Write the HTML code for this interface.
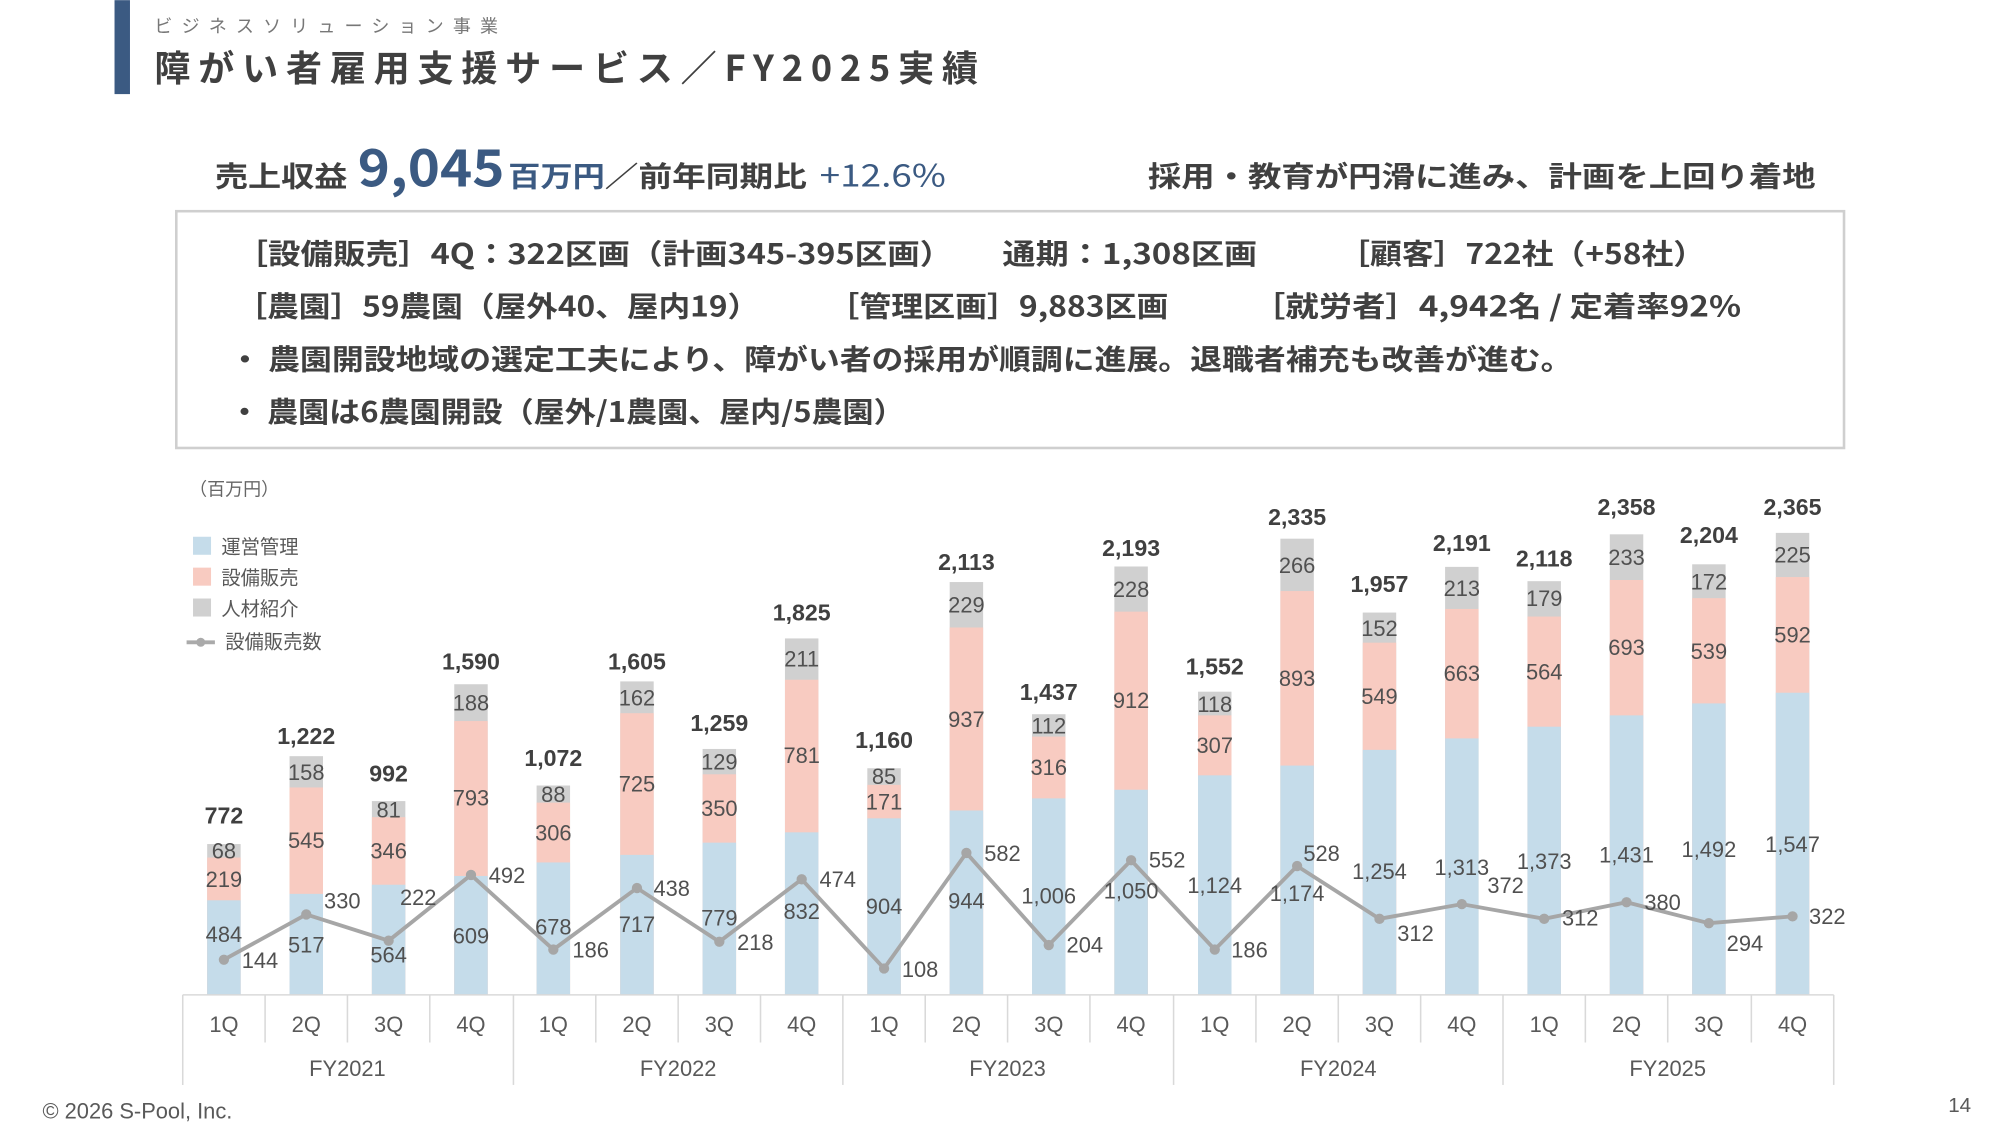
<!DOCTYPE html>
<html><head><meta charset="utf-8"><style>
html,body{margin:0;padding:0;background:#fff;}
svg{display:block;font-family:"Liberation Sans","Noto Sans CJK JP",sans-serif;}
.t{font-weight:bold;fill:#404040;}
.j{font-family:"Noto Sans CJK JP",sans-serif;}
.s{font-size:17px;fill:#505050;text-anchor:middle;}
.tot{font-size:18px;font-weight:bold;fill:#404040;text-anchor:middle;}
.ax{font-size:17px;fill:#595959;text-anchor:middle;}
</style></head><body>
<svg width="2001" height="1125" viewBox="0 0 1555 874" xmlns="http://www.w3.org/2000/svg">
<rect x="89" y="0" width="12" height="73" fill="#3b5a82"/>
<text x="120" y="25" font-size="14" fill="#777" class="j" textLength="267" lengthAdjust="spacing">ビジネスソリューション事業</text>
<text x="120" y="63" font-size="28" class="t j" textLength="640" lengthAdjust="spacing">障がい者雇用支援サービス／FY2025実績</text>
<g class="t j" font-size="22">
<text x="167" y="145" textLength="103" lengthAdjust="spacingAndGlyphs">売上収益</text>
<text x="278" y="145" fill="#3b5a82" font-size="40" textLength="114" lengthAdjust="spacingAndGlyphs">9,045</text>
<text x="395" y="145" fill="#3b5a82" textLength="75" lengthAdjust="spacingAndGlyphs">百万円</text>
<text x="470" y="145" textLength="157" lengthAdjust="spacingAndGlyphs">／前年同期比</text>
<text x="637" y="145" fill="#3b5a82" font-weight="normal" font-size="24" textLength="98" lengthAdjust="spacingAndGlyphs">+12.6%</text>
<text x="892" y="145" textLength="519" lengthAdjust="spacingAndGlyphs">採用・教育が円滑に進み、計画を上回り着地</text>
</g>
<rect x="137" y="164" width="1296" height="184" fill="none" stroke="#cfcfcf" stroke-width="2"/>
<g class="t j" font-size="22">
<text x="183" y="205" textLength="557" lengthAdjust="spacingAndGlyphs">［設備販売］4Q：322区画（計画345-395区画）</text>
<text x="779" y="205" textLength="198" lengthAdjust="spacingAndGlyphs">通期：1,308区画</text>
<text x="1040" y="205" textLength="285" lengthAdjust="spacingAndGlyphs">［顧客］722社（+58社）</text>
<text x="183" y="246" textLength="407" lengthAdjust="spacingAndGlyphs">［農園］59農園（屋外40、屋内19）</text>
<text x="643" y="246" textLength="265" lengthAdjust="spacingAndGlyphs">［管理区画］9,883区画</text>
<text x="973" y="246" textLength="380" lengthAdjust="spacingAndGlyphs">［就労者］4,942名 / 定着率92%</text>
<text x="178" y="287" textLength="1044" lengthAdjust="spacingAndGlyphs">・ 農園開設地域の選定工夫により、障がい者の採用が順調に進展。退職者補充も改善が進む。</text>
<text x="178" y="328" textLength="525" lengthAdjust="spacingAndGlyphs">・ 農園は6農園開設（屋外/1農園、屋内/5農園）</text>
</g>
<text x="147" y="385" font-size="14" fill="#666" class="j">（百万円）</text>
<g class="j" font-size="15" fill="#595959">
<rect x="150" y="417" width="14" height="14" fill="#c5dcea"/><text x="172" y="430">運営管理</text>
<rect x="150" y="441" width="14" height="14" fill="#f8cbc1"/><text x="172" y="454">設備販売</text>
<rect x="150" y="465" width="14" height="14" fill="#d0d0d0"/><text x="172" y="478">人材紹介</text>
<line x1="145" y1="499" x2="167" y2="499" stroke="#aaa" stroke-width="3"/><circle cx="156" cy="499" r="3.5" fill="#aaa"/><text x="175" y="504">設備販売数</text>
</g>
<g>
<g fill="#d0d0d0">
<rect x="161" y="655.8" width="26" height="117.2"/><rect x="225" y="587.5" width="26" height="185.5"/><rect x="289" y="622.4" width="26" height="150.6"/><rect x="353" y="531.6" width="26" height="241.4"/><rect x="417" y="610.3" width="26" height="162.7"/><rect x="482" y="529.4" width="26" height="243.6"/><rect x="546" y="581.9" width="26" height="191.1"/><rect x="610" y="496" width="26" height="277"/><rect x="674" y="596.9" width="26" height="176.1"/><rect x="738" y="452.2" width="26" height="320.8"/><rect x="802" y="554.9" width="26" height="218.1"/><rect x="866" y="440.1" width="26" height="332.9"/><rect x="931" y="537.4" width="26" height="235.6"/><rect x="995" y="418.5" width="26" height="354.5"/><rect x="1059" y="475.9" width="26" height="297.1"/><rect x="1123" y="440.4" width="26" height="332.6"/><rect x="1187" y="451.5" width="26" height="321.5"/><rect x="1251" y="415.1" width="26" height="357.9"/><rect x="1315" y="438.4" width="26" height="334.6"/><rect x="1380" y="414" width="26" height="359"/>
</g>
<g fill="#f8cbc1">
<rect x="161" y="666.3" width="26" height="106.7"/><rect x="225" y="611.8" width="26" height="161.2"/><rect x="289" y="634.9" width="26" height="138.1"/><rect x="353" y="560.2" width="26" height="212.8"/><rect x="417" y="623.6" width="26" height="149.4"/><rect x="482" y="554.1" width="26" height="218.9"/><rect x="546" y="601.6" width="26" height="171.4"/><rect x="610" y="528.1" width="26" height="244.9"/><rect x="674" y="609.8" width="26" height="163.2"/><rect x="738" y="487.5" width="26" height="285.5"/><rect x="802" y="572.3" width="26" height="200.7"/><rect x="866" y="475.2" width="26" height="297.8"/><rect x="931" y="555.8" width="26" height="217.2"/><rect x="995" y="459.2" width="26" height="313.8"/><rect x="1059" y="499.3" width="26" height="273.7"/><rect x="1123" y="473.1" width="26" height="299.9"/><rect x="1187" y="479" width="26" height="294"/><rect x="1251" y="450.6" width="26" height="322.4"/><rect x="1315" y="464.7" width="26" height="308.3"/><rect x="1380" y="448.3" width="26" height="324.7"/>
</g>
<g fill="#c5dcea">
<rect x="161" y="699.5" width="26" height="73.5"/><rect x="225" y="694.5" width="26" height="78.5"/><rect x="289" y="687.4" width="26" height="85.6"/><rect x="353" y="680.6" width="26" height="92.4"/><rect x="417" y="670.1" width="26" height="102.9"/><rect x="482" y="664.2" width="26" height="108.8"/><rect x="546" y="654.7" width="26" height="118.3"/><rect x="610" y="646.7" width="26" height="126.3"/><rect x="674" y="635.8" width="26" height="137.2"/><rect x="738" y="629.7" width="26" height="143.3"/><rect x="802" y="620.3" width="26" height="152.7"/><rect x="866" y="613.6" width="26" height="159.4"/><rect x="931" y="602.4" width="26" height="170.6"/><rect x="995" y="594.8" width="26" height="178.2"/><rect x="1059" y="582.6" width="26" height="190.4"/><rect x="1123" y="573.7" width="26" height="199.3"/><rect x="1187" y="564.6" width="26" height="208.4"/><rect x="1251" y="555.8" width="26" height="217.2"/><rect x="1315" y="546.5" width="26" height="226.5"/><rect x="1380" y="538.2" width="26" height="234.8"/>
</g>
</g>
<g stroke="#d9d9d9" stroke-width="1.2">
<line x1="142" y1="773" x2="1425" y2="773"/>
<line x1="142" y1="773" x2="142" y2="843"/><line x1="399" y1="773" x2="399" y2="843"/><line x1="655" y1="773" x2="655" y2="843"/><line x1="912" y1="773" x2="912" y2="843"/><line x1="1168" y1="773" x2="1168" y2="843"/><line x1="1425" y1="773" x2="1425" y2="843"/>
<line x1="206" y1="773" x2="206" y2="810"/><line x1="270" y1="773" x2="270" y2="810"/><line x1="334" y1="773" x2="334" y2="810"/>
<line x1="463" y1="773" x2="463" y2="810"/><line x1="527" y1="773" x2="527" y2="810"/><line x1="591" y1="773" x2="591" y2="810"/>
<line x1="719" y1="773" x2="719" y2="810"/><line x1="783" y1="773" x2="783" y2="810"/><line x1="847" y1="773" x2="847" y2="810"/>
<line x1="976" y1="773" x2="976" y2="810"/><line x1="1040" y1="773" x2="1040" y2="810"/><line x1="1104" y1="773" x2="1104" y2="810"/>
<line x1="1232" y1="773" x2="1232" y2="810"/><line x1="1296" y1="773" x2="1296" y2="810"/><line x1="1361" y1="773" x2="1361" y2="810"/>
</g>
<g class="ax">
<text x="174" y="802">1Q</text><text x="238" y="802">2Q</text><text x="302" y="802">3Q</text><text x="366" y="802">4Q</text>
<text x="430" y="802">1Q</text><text x="495" y="802">2Q</text><text x="559" y="802">3Q</text><text x="623" y="802">4Q</text>
<text x="687" y="802">1Q</text><text x="751" y="802">2Q</text><text x="815" y="802">3Q</text><text x="879" y="802">4Q</text>
<text x="944" y="802">1Q</text><text x="1008" y="802">2Q</text><text x="1072" y="802">3Q</text><text x="1136" y="802">4Q</text>
<text x="1200" y="802">1Q</text><text x="1264" y="802">2Q</text><text x="1328" y="802">3Q</text><text x="1393" y="802">4Q</text>
<text x="270" y="836">FY2021</text><text x="527" y="836">FY2022</text><text x="783" y="836">FY2023</text><text x="1040" y="836">FY2024</text><text x="1296" y="836">FY2025</text>
</g>
<polyline fill="none" stroke="#a6a6a6" stroke-width="3" points="174,745.7 238,710.5 302,730.9 366,679.8 430,737.8 495,690 559,731.7 623,683.2 687,752.5 751,662.7 815,734.3 879,668.4 944,737.8 1008,672.9 1072,713.9 1136,702.5 1200,713.9 1264,701 1328,717.3 1393,712"/>
<g fill="#a6a6a6">
<circle cx="174" cy="745.7" r="4"/><circle cx="238" cy="710.5" r="4"/><circle cx="302" cy="730.9" r="4"/><circle cx="366" cy="679.8" r="4"/><circle cx="430" cy="737.8" r="4"/><circle cx="495" cy="690" r="4"/><circle cx="559" cy="731.7" r="4"/><circle cx="623" cy="683.2" r="4"/><circle cx="687" cy="752.5" r="4"/><circle cx="751" cy="662.7" r="4"/><circle cx="815" cy="734.3" r="4"/><circle cx="879" cy="668.4" r="4"/><circle cx="944" cy="737.8" r="4"/><circle cx="1008" cy="672.9" r="4"/><circle cx="1072" cy="713.9" r="4"/><circle cx="1136" cy="702.5" r="4"/><circle cx="1200" cy="713.9" r="4"/><circle cx="1264" cy="701" r="4"/><circle cx="1328" cy="717.3" r="4"/><circle cx="1393" cy="712" r="4"/>
</g>
<g class="s">
<text x="174" y="732">484</text><text x="238" y="740">517</text><text x="302" y="748">564</text><text x="366" y="733">609</text><text x="430" y="726">678</text><text x="495" y="724">717</text><text x="559" y="719">779</text><text x="623" y="714">832</text><text x="687" y="710">904</text><text x="751" y="706">944</text><text x="815" y="702">1,006</text><text x="879" y="698">1,050</text><text x="944" y="694">1,124</text><text x="1008" y="700">1,174</text><text x="1072" y="683">1,254</text><text x="1136" y="680">1,313</text><text x="1200" y="675">1,373</text><text x="1264" y="670">1,431</text><text x="1328" y="666">1,492</text><text x="1393" y="662">1,547</text>
<text x="174" y="689">219</text><text x="238" y="659">545</text><text x="302" y="667">346</text><text x="366" y="626">793</text><text x="430" y="653">306</text><text x="495" y="615">725</text><text x="559" y="634">350</text><text x="623" y="593">781</text><text x="687" y="629">171</text><text x="751" y="565">937</text><text x="815" y="602">316</text><text x="879" y="550">912</text><text x="944" y="585">307</text><text x="1008" y="533">893</text><text x="1072" y="547">549</text><text x="1136" y="529">663</text><text x="1200" y="528">564</text><text x="1264" y="509">693</text><text x="1328" y="512">539</text><text x="1393" y="499">592</text>
<text x="174" y="667">68</text><text x="238" y="606">158</text><text x="302" y="635">81</text><text x="366" y="552">188</text><text x="430" y="623">88</text><text x="495" y="548">162</text><text x="559" y="598">129</text><text x="623" y="518">211</text><text x="687" y="609">85</text><text x="751" y="476">229</text><text x="815" y="570">112</text><text x="879" y="464">228</text><text x="944" y="553">118</text><text x="1008" y="445">266</text><text x="1072" y="494">152</text><text x="1136" y="463">213</text><text x="1200" y="471">179</text><text x="1264" y="439">233</text><text x="1328" y="458">172</text><text x="1393" y="437">225</text>
<text x="202" y="752">144</text><text x="266" y="706">330</text><text x="325" y="703">222</text><text x="394" y="686">492</text><text x="459" y="744">186</text><text x="522" y="696">438</text><text x="587" y="738">218</text><text x="651" y="689">474</text><text x="715" y="759">108</text><text x="779" y="669">582</text><text x="843" y="740">204</text><text x="907" y="674">552</text><text x="971" y="744">186</text><text x="1027" y="669">528</text><text x="1100" y="731">312</text><text x="1170" y="694">372</text><text x="1228" y="719">312</text><text x="1292" y="707">380</text><text x="1356" y="739">294</text><text x="1420" y="718">322</text>
</g>
<g class="tot">
<text x="174" y="640">772</text><text x="238" y="578">1,222</text><text x="302" y="607">992</text><text x="366" y="520">1,590</text><text x="430" y="595">1,072</text><text x="495" y="520">1,605</text><text x="559" y="568">1,259</text><text x="623" y="482">1,825</text><text x="687" y="581">1,160</text><text x="751" y="443">2,113</text><text x="815" y="544">1,437</text><text x="879" y="432">2,193</text><text x="944" y="524">1,552</text><text x="1008" y="408">2,335</text><text x="1072" y="460">1,957</text><text x="1136" y="428">2,191</text><text x="1200" y="440">2,118</text><text x="1264" y="400">2,358</text><text x="1328" y="422">2,204</text><text x="1393" y="400">2,365</text>
</g>
<text x="33" y="869" font-size="17" fill="#595959">© 2026 S-Pool, Inc.</text>
<text x="1514" y="864" font-size="16" fill="#595959">14</text>
</svg>
</body></html>
